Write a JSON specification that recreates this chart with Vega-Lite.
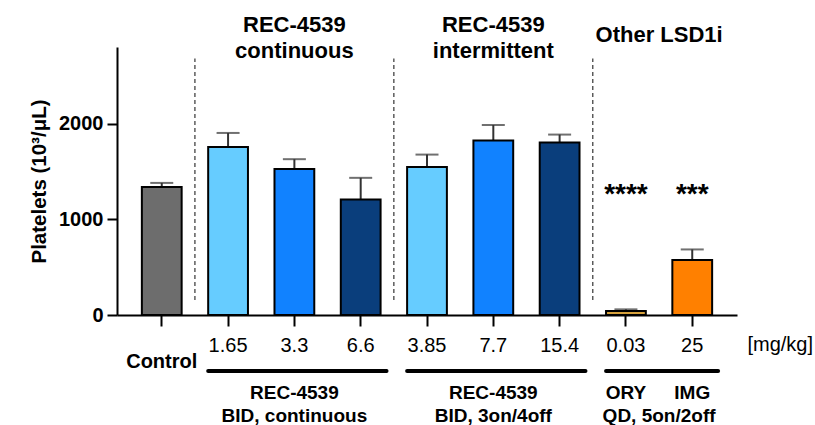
{
  "$schema": "https://vega.github.io/schema/vega-lite/v6.json",
  "autosize": "none",
  "padding": {"left": 117, "top": 47, "right": 78, "bottom": 110},
  "width": 620,
  "height": 268,
  "config": {
    "font": "Liberation Sans",
    "view": {"stroke": null},
    "axis": {"domainColor": "#000", "tickColor": "#000", "labelColor": "#000", "titleColor": "#000", "grid": false}
  },
  "datasets": {
    "bars": [
      {"g": "Control", "s": "ctrl", "v": 1338, "e": 1380},
      {"g": "1.65", "s": "low", "v": 1756, "e": 1902},
      {"g": "3.3", "s": "mid", "v": 1526, "e": 1628},
      {"g": "6.6", "s": "high", "v": 1207, "e": 1433},
      {"g": "3.85", "s": "low", "v": 1547, "e": 1676},
      {"g": "7.7", "s": "mid", "v": 1822, "e": 1985},
      {"g": "15.4", "s": "high", "v": 1802, "e": 1885},
      {"g": "0.03", "s": "ory", "v": 42, "e": 59},
      {"g": "25", "s": "img", "v": 574, "e": 685}
    ],
    "seps": [{"g": "Control"}, {"g": "6.6"}, {"g": "15.4"}],
    "brackets": [
      {"from": "1.65", "to": "6.6"},
      {"from": "3.85", "to": "15.4"},
      {"from": "0.03", "to": "25"}
    ],
    "headers": [
      {"g": "3.3", "t": "REC-4539\ncontinuous"},
      {"g": "7.7", "t": "REC-4539\nintermittent"}
    ],
    "other": [{"g": "0.03", "t": "Other LSD1i"}],
    "control": [{"g": "Control", "t": "Control"}],
    "unit": [{"g": "25", "t": "[mg/kg]"}],
    "bottom": [
      {"g": "3.3", "t": "REC-4539\nBID, continuous"},
      {"g": "7.7", "t": "REC-4539\nBID, 3on/4off"}
    ],
    "drugs": [{"g": "0.03", "t": "ORY"}, {"g": "25", "t": "IMG"}],
    "qd": [{"g": "0.03", "t": "QD, 5on/2off"}],
    "stars": [{"g": "0.03", "t": "****"}, {"g": "25", "t": "***"}]
  },
  "encoding": {
    "x": {
      "field": "g", "type": "nominal",
      "sort": ["Control", "1.65", "3.3", "6.6", "3.85", "7.7", "15.4", "0.03", "25"],
      "scale": {"domain": ["Control", "1.65", "3.3", "6.6", "3.85", "7.7", "15.4", "0.03", "25"], "paddingInner": 0.4, "paddingOuter": 0.375},
      "axis": {
        "title": null, "labelAngle": 0, "labelFontSize": 20, "labelPadding": 9,
        "tickSize": 11, "tickWidth": 2, "domainWidth": 2,
        "labelExpr": "datum.value == 'Control' ? '' : datum.value"
      }
    }
  },
  "layer": [
    {
      "data": {"name": "seps"},
      "mark": {"type": "rule", "strokeDash": [4, 3], "color": "#444", "strokeWidth": 1.3},
      "encoding": {
        "x": {"field": "g", "type": "nominal", "bandPosition": 1.3333},
        "y": {"datum": 156, "type": "quantitative", "scale": {"domain": [0, 2800]}},
        "y2": {"datum": 2681}
      }
    },
    {
      "data": {"name": "bars"},
      "mark": {"type": "rule", "color": "#333", "strokeWidth": 2},
      "encoding": {
        "y": {"field": "v", "type": "quantitative"},
        "y2": {"field": "e"}
      }
    },
    {
      "data": {"name": "bars"},
      "mark": {"type": "tick", "color": "#333", "size": 23, "thickness": 2},
      "encoding": {
        "y": {"field": "e", "type": "quantitative"}
      }
    },
    {
      "data": {"name": "bars"},
      "mark": {"type": "bar", "stroke": "#000", "strokeWidth": 2},
      "encoding": {
        "y": {
          "field": "v", "type": "quantitative",
          "scale": {"domain": [0, 2800]},
          "axis": {
            "values": [0, 1000, 2000], "format": "d", "title": "Platelets (10³/μL)",
            "titleFontSize": 20.5, "titleFontWeight": "bold", "titlePadding": 9,
            "labelFontSize": 20, "labelFontWeight": "bold", "labelPadding": 4,
            "tickSize": 10, "tickWidth": 2, "domainWidth": 2
          }
        },
        "color": {
          "field": "s", "type": "nominal", "legend": null,
          "scale": {
            "domain": ["ctrl", "low", "mid", "high", "ory", "img"],
            "range": ["#6d6d6d", "#66ccff", "#1182ff", "#0a3e7c", "#d6a13c", "#ff8000"]
          }
        }
      }
    },
    {
      "data": {"name": "brackets"},
      "mark": {"type": "rule", "color": "#000", "strokeWidth": 4, "strokeCap": "round"},
      "encoding": {
        "x": {"field": "from", "type": "nominal", "bandPosition": 0},
        "x2": {"field": "to", "bandPosition": 1.15},
        "y": {"datum": -584, "type": "quantitative"}
      }
    },
    {
      "data": {"name": "headers"},
      "mark": {"type": "text", "fontSize": 22, "fontWeight": "bold", "lineBreak": "\n", "lineHeight": 26, "baseline": "middle", "color": "#000"},
      "encoding": {"text": {"field": "t"}, "y": {"datum": 3026, "type": "quantitative"}}
    },
    {
      "data": {"name": "other"},
      "mark": {"type": "text", "fontSize": 22, "fontWeight": "bold", "baseline": "middle", "color": "#000"},
      "encoding": {"text": {"field": "t"}, "x": {"field": "g", "type": "nominal", "bandPosition": 1.3333}, "y": {"datum": 2922, "type": "quantitative"}}
    },
    {
      "data": {"name": "control"},
      "mark": {"type": "text", "fontSize": 20, "fontWeight": "bold", "baseline": "middle", "color": "#000"},
      "encoding": {"text": {"field": "t"}, "y": {"datum": -490, "type": "quantitative"}}
    },
    {
      "data": {"name": "unit"},
      "mark": {"type": "text", "fontSize": 20, "baseline": "middle", "dx": 88, "color": "#000"},
      "encoding": {"text": {"field": "t"}, "y": {"datum": -313, "type": "quantitative"}}
    },
    {
      "data": {"name": "bottom"},
      "mark": {"type": "text", "fontSize": 19, "fontWeight": "bold", "lineBreak": "\n", "lineHeight": 23, "baseline": "middle", "color": "#000"},
      "encoding": {"text": {"field": "t"}, "y": {"datum": -814, "type": "quantitative"}}
    },
    {
      "data": {"name": "drugs"},
      "mark": {"type": "text", "fontSize": 19, "fontWeight": "bold", "baseline": "middle", "color": "#000"},
      "encoding": {"text": {"field": "t"}, "y": {"datum": -814, "type": "quantitative"}}
    },
    {
      "data": {"name": "qd"},
      "mark": {"type": "text", "fontSize": 19, "fontWeight": "bold", "baseline": "middle", "color": "#000"},
      "encoding": {"text": {"field": "t"}, "x": {"field": "g", "type": "nominal", "bandPosition": 1.3333}, "y": {"datum": -1054, "type": "quantitative"}}
    },
    {
      "data": {"name": "stars"},
      "mark": {"type": "text", "fontSize": 28, "fontWeight": "bold", "baseline": "middle", "color": "#000"},
      "encoding": {"text": {"field": "t"}, "y": {"datum": 1250, "type": "quantitative"}}
    }
  ]
}
